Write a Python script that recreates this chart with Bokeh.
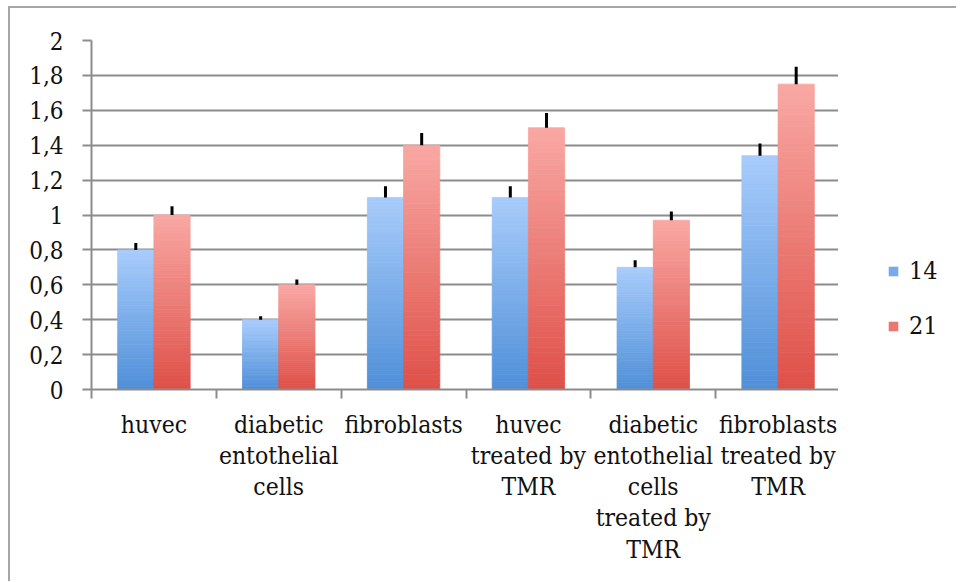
from bokeh.plotting import figure
from bokeh.models import (Range1d, FixedTicker, CustomJSTickFormatter, Legend, LegendItem,
                          ColumnDataSource)
from bokeh.layouts import row
from bokeh.embed import file_html
from bokeh.resources import INLINE

# ---- data ----
categories = ["huvec", "diabetic\nentothelial\ncells", "fibroblasts",
              "huvec\ntreated by\nTMR", "diabetic\nentothelial\ncells\ntreated by\nTMR",
              "fibroblasts\ntreated by\nTMR"]
series_names = ["14", "21"]
values_14 = [0.80, 0.40, 1.10, 1.10, 0.70, 1.34]
values_21 = [1.00, 0.60, 1.40, 1.50, 0.97, 1.75]
err_14 = [0.04, 0.02, 0.065, 0.065, 0.04, 0.07]
err_21 = [0.05, 0.03, 0.07, 0.085, 0.05, 0.10]
y_ticks = [0, 0.2, 0.4, 0.6, 0.8, 1, 1.2, 1.4, 1.6, 1.8, 2]
y_tick_labels = ["0", "0,2", "0,4", "0,6", "0,8", "1", "1,2", "1,4", "1,6", "1,8", "2"]

FONT = "DejaVu Serif Condensed"
GRID = "#8c8c8c"
TXT = "#111111"
BORDER = "2px solid #a6a6a6"

p = figure(frame_width=747, frame_height=347, output_backend="svg", toolbar_location=None,
           x_range=Range1d(0, len(categories)), y_range=Range1d(0, 2),
           min_border_left=81, min_border_right=0, min_border_top=32, min_border_bottom=194)
p.outline_line_color = None
p.margin = (6, 0, 0, 8)
p.styles = {"border-left": BORDER, "border-top": BORDER}

def hex2rgb(h):
    h = h.lstrip("#")
    return tuple(int(h[i:i + 2], 16) for i in (0, 2, 4))

def mix(c0, c1, t):
    a, b = hex2rgb(c0), hex2rgb(c1)
    return "#%02x%02x%02x" % tuple(round(a[i] + (b[i] - a[i]) * t) for i in range(3))

BAR_W = 0.29
N = 50
specs = [(values_14, err_14, -BAR_W / 2, "#4f8fd8", "#a8ccfb"),
         (values_21, err_21, BAR_W / 2, "#de5048", "#f9a8a4")]

# legend figure
p2 = figure(width=118, height=575, output_backend="svg", toolbar_location=None,
            x_range=Range1d(0, 1), y_range=Range1d(0, 1), min_border=0)
p2.margin = (6, 0, 0, 0)
p2.styles = {"border-top": BORDER}
p2.axis.visible = False
p2.grid.visible = False
p2.outline_line_color = None
legend_items = []

for (vals, errs, off, c_bot, c_top), name in zip(specs, series_names):
    xs, bots, tops, cols = [], [], [], []
    for i, v in enumerate(vals):
        for k in range(N):
            xs.append(i + 0.5 + off)
            bots.append(v * k / N)
            tops.append(v * (k + 1) / N)
            cols.append(mix(c_bot, c_top, (k + 0.5) / N))
    src = ColumnDataSource(dict(x=xs, bottom=bots, top=tops, color=cols))
    p.vbar(x="x", bottom="bottom", top="top", width=BAR_W, fill_color="color",
           line_color="color", line_width=0.8, source=src)
    ex = [i + 0.5 + off for i in range(len(vals))]
    p.segment(x0=ex, y0=vals, x1=ex, y1=[v + e for v, e in zip(vals, errs)],
              line_color="black", line_width=3)
    # legend swatch renderer, kept outside the visible range of the legend panel
    swatch = p2.rect(x=[-10], y=[-10], width=0.1, height=0.1,
                     fill_color=mix(c_bot, c_top, 0.45), line_color=None)
    legend_items.append(LegendItem(label=name, renderers=[swatch]))

# grid
p.xgrid.grid_line_color = None
p.ygrid.ticker = FixedTicker(ticks=y_ticks)
p.ygrid.grid_line_color = GRID
p.ygrid.grid_line_width = 2

# y axis
p.yaxis.ticker = FixedTicker(ticks=y_ticks)
p.yaxis.formatter = CustomJSTickFormatter(args=dict(labels=y_tick_labels),
                                          code="return labels[Math.round(tick*5)];")
p.yaxis.axis_line_color = GRID
p.yaxis.axis_line_width = 2
p.yaxis.major_tick_line_color = GRID
p.yaxis.major_tick_line_width = 2
p.yaxis.major_tick_in = 0
p.yaxis.major_tick_out = 9
p.yaxis.minor_tick_line_color = None
p.yaxis.major_label_standoff = 19
p.yaxis.major_label_text_font = FONT
p.yaxis.major_label_text_font_size = "24px"
p.yaxis.major_label_text_color = TXT

# x axis
p.xaxis.ticker = FixedTicker(ticks=[i + 0.5 for i in range(len(categories))],
                             minor_ticks=list(range(len(categories) + 1)))
p.xaxis.formatter = CustomJSTickFormatter(args=dict(labels=categories),
                                          code="return labels[Math.floor(tick)];")
p.xaxis.axis_line_color = GRID
p.xaxis.axis_line_width = 2
p.xaxis.major_tick_line_color = None
p.xaxis.major_tick_in = 0
p.xaxis.major_tick_out = 0
p.xaxis.minor_tick_line_color = GRID
p.xaxis.minor_tick_line_width = 2
p.xaxis.minor_tick_in = 0
p.xaxis.minor_tick_out = 9
p.xaxis.major_label_standoff = 11
p.xaxis.major_label_text_font = FONT
p.xaxis.major_label_text_font_size = "24.5px"
p.xaxis.major_label_text_line_height = 1.08
p.xaxis.major_label_text_color = TXT

legend = Legend(items=legend_items, location=(49, 49), orientation="vertical",
                glyph_width=12, glyph_height=12, label_height=24, spacing=26,
                label_standoff=10, padding=0, margin=0,
                label_text_font=FONT, label_text_font_size="25px",
                label_text_color=TXT,
                border_line_color=None, background_fill_alpha=0)
p2.add_layout(legend)

layout = row(p, p2)
open("out.html", "w").write(file_html(layout, INLINE))
